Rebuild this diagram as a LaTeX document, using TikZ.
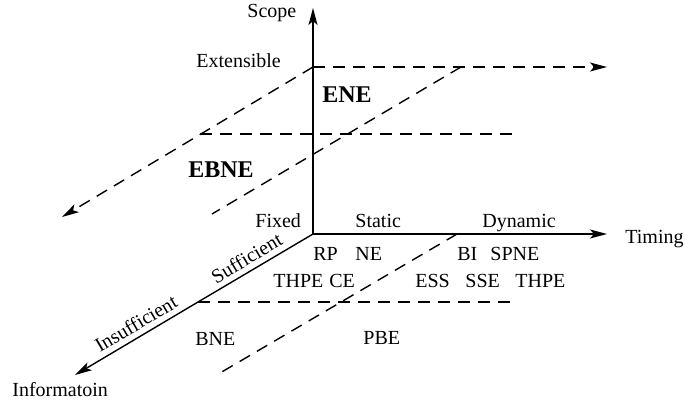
\documentclass[tikz,border=0pt]{standalone}
\usepackage{fontspec}
\setmainfont{Liberation Serif}
\usepackage{tikz}
\usetikzlibrary{arrows.meta}
\tikzset{
	axis/.style={line width=0.7pt, -{Stealth[length=8.5pt, width=4.5pt, inset=2pt]}},
	guide/.style={line width=0.7pt, dash pattern=on 6pt off 4pt},
	lbl/.style={anchor=base west, inner sep=0pt},
}

\begin{document}
\begin{tikzpicture}[x=0.5pt, y=-0.5pt, every node/.style={inner sep=.25ex}]
	\useasboundingbox (0,0) rectangle (685,402);
	% axes
	\coordinate (O) at (313,234);
	\coordinate (S) at (313,8);
	\coordinate (T) at (607,234);
	\coordinate (I) at (75,375);
	\coordinate (L) at (198,302);
	% extensible plane
	\coordinate (E) at (313,67);
	\coordinate (ER) at (607,67);
	\coordinate (EL) at (62,217);
	\coordinate (MA) at (200,134);
	\coordinate (MB) at (515,134);
	\coordinate (DA) at (461,67);
	\coordinate (DB) at (212,214);
	% fixed plane
	\coordinate (FA) at (457,234);
	\coordinate (FB) at (220,373);
	\coordinate (LB) at (515,302);

	\draw [guide, -{Stealth[length=8.5pt, width=4.5pt, inset=2pt]}] (E) -- (ER);
	\draw [guide, -{Stealth[length=8.5pt, width=4.5pt, inset=2pt]}] (E) -- (EL);
	\draw [guide] (MA) -- (MB);
	\draw [guide] (DA) -- (DB);
	\draw [guide] (FA) -- (FB);
	\draw [guide] (L) -- (LB);

	\draw [axis] (O) -- (S);
	\draw [axis] (O) -- (T);
	\draw [axis] (O) -- node[sloped, above=1.5pt, pos=0.52] (suff) {Sufficient} (L)
		-- node[sloped, above=1.5pt, pos=0.45] (insuff) {Insufficient} (I);

	% axis labels
	\node[lbl] (scope) at (247,17) {Scope};
	\node[lbl] (timing) at (625,243) {Timing};
	\node[lbl] (info) at (12,396) {Informatoin};
	\node[lbl] (ext) at (196,67) {Extensible};
	\node[lbl] (fixed) at (255,227) {Fixed};
	\node[lbl] (static) at (355,227) {Static};
	\node[lbl] (dynamic) at (482,227) {Dynamic};

	% equilibrium concepts
	\node[lbl] (ene) at (322,102) {\large\bfseries ENE};
	\node[lbl] (ebne) at (188,177) {\large\bfseries EBNE};
	\node[lbl] (rp) at (313,260) {RP};
	\node[lbl] (ne) at (355,260) {NE};
	\node[lbl] (bi) at (457,260) {BI};
	\node[lbl] (spne) at (490,260) {SPNE};
	\node[lbl] (thpeA) at (273,287) {THPE};
	\node[lbl] (ce) at (329,287) {CE};
	\node[lbl] (ess) at (415,287) {ESS};
	\node[lbl] (sse) at (465,287) {SSE};
	\node[lbl] (thpeB) at (515,287) {THPE};
	\node[lbl] (bne) at (195,345) {BNE};
	\node[lbl] (pbe) at (363,344) {PBE};

\end{tikzpicture}
\end{document}
